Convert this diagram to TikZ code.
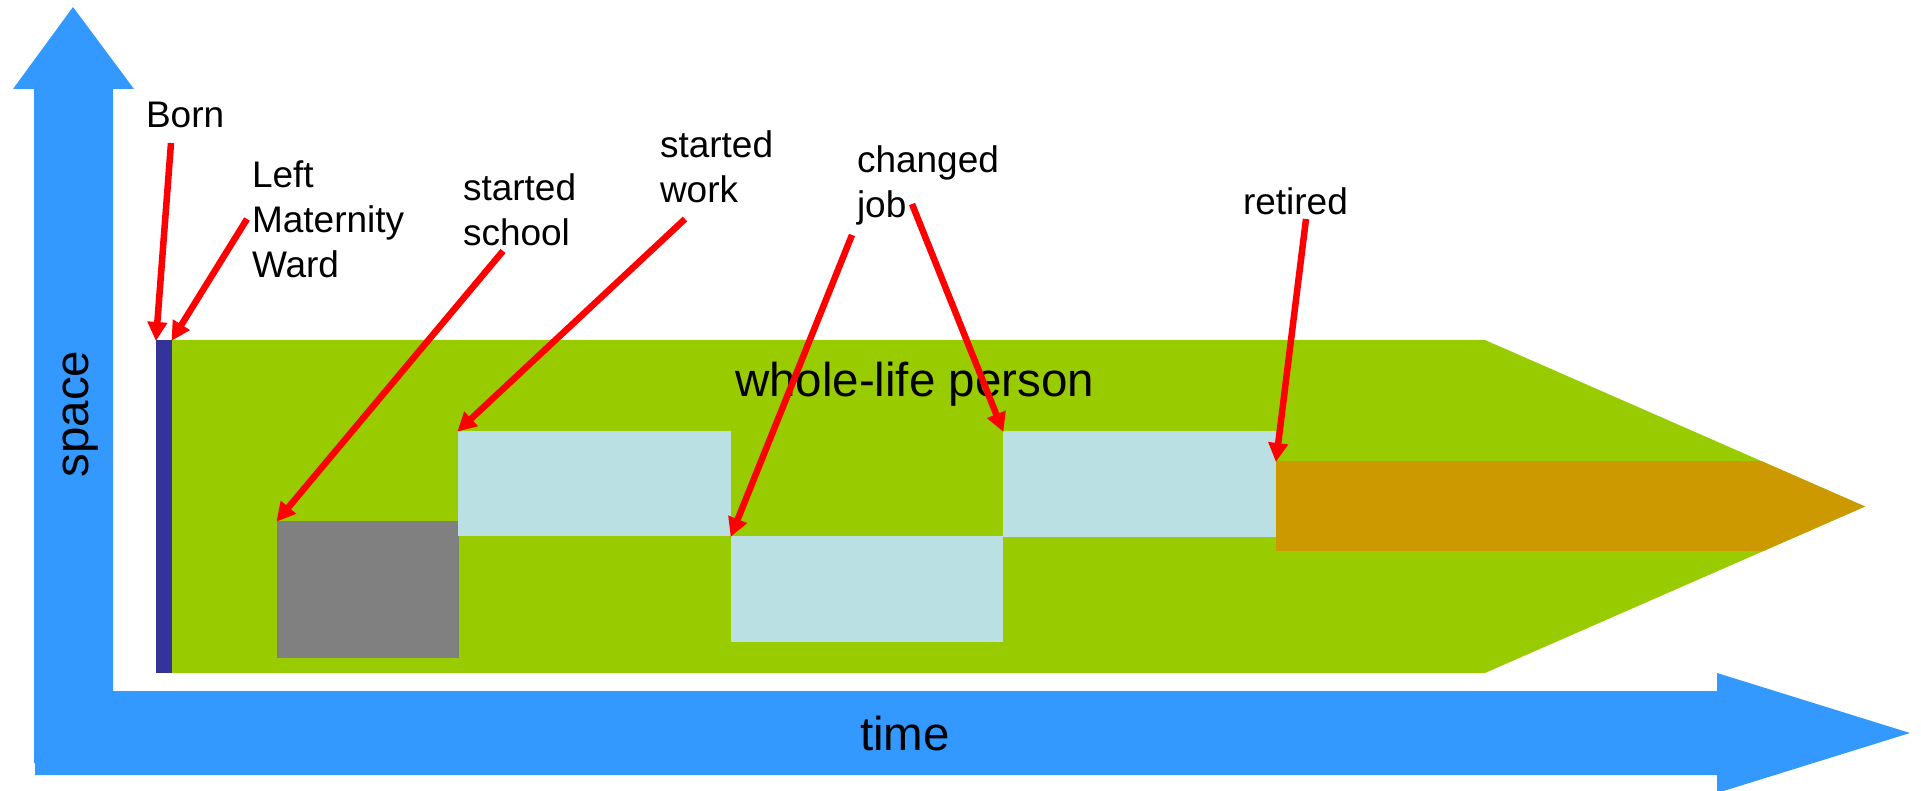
\documentclass[tikz,border=0pt]{standalone}
\usepackage{fontspec}
\setmainfont{Liberation Sans}
\usetikzlibrary{arrows.meta}
\definecolor{axisblue}{HTML}{3399FF}
\definecolor{lifegreen}{HTML}{99CC00}
\definecolor{birthblue}{HTML}{333399}
\definecolor{schoolgrey}{HTML}{808080}
\definecolor{jobblue}{HTML}{BBE0E3}
\definecolor{retireorange}{HTML}{CC9900}
\definecolor{pointer}{HTML}{FF0000}
\tikzset{
  stage/.style={inner sep=0pt, outer sep=0pt, anchor=north west, draw=none},
  % multi-line labels are placed by the baseline of their last line
  label/.style={inner sep=0pt, outer sep=0pt, anchor=base west, align=left,
    font=\fontsize{37}{45}\selectfont},
  biglabel/.style={inner sep=0pt, outer sep=0pt, anchor=base,
    font=\fontsize{47.5}{56}\selectfont},
  pointerarrow/.style={draw=pointer, line width=6.5pt,
    -{Triangle[length=19pt, width=19pt]}, shorten >=-1pt}
}
\begin{document}
\begin{tikzpicture}[x=1pt, y=-1pt]
\useasboundingbox (0,0) rectangle (1921,791);

% axes
\fill[axisblue] (34,763) -- (34,89) -- (13,89) -- (73,7) -- (134,89)
  -- (113,89) -- (113,763) -- cycle;
\fill[axisblue] (35,691) -- (1717,691) -- (1717,673) -- (1910,733)
  -- (1717,793) -- (1717,775) -- (35,775) -- cycle;
\node[biglabel, rotate=90] (space) at (88,414) {space};
\node[biglabel] (time) at (905,750) {time};

% the whole life, with its temporal parts
\fill[lifegreen] (172,340) -- (1485,340) -- (1865,506.5) -- (1485,673)
  -- (172,673) -- cycle;
\node[stage, fill=birthblue, minimum width=16pt, minimum height=333pt]
  (birth) at (156,340) {};
\node[stage, fill=schoolgrey, minimum width=182pt, minimum height=137pt]
  (school) at (277,521) {};
\node[stage, fill=jobblue, minimum width=273pt, minimum height=105pt]
  (jobA) at (458,431) {};
\node[stage, fill=jobblue, minimum width=272pt, minimum height=106pt]
  (jobB) at (731,536) {};
\node[stage, fill=jobblue, minimum width=273pt, minimum height=106pt]
  (jobC) at (1003,431) {};
\begin{scope}
  \clip (172,340) -- (1485,340) -- (1865,506.5) -- (1485,673)
    -- (172,673) -- cycle;
  \node[stage, fill=retireorange, minimum width=640pt, minimum height=90pt]
    (retire) at (1276,461) {};
\end{scope}
\node[biglabel, anchor=base west] (whole) at (735,396) {whole-life person};

% event labels
\node[label] (born) at (146,128) {Born};
\node[label] (leftward) at (252,278) {Left\\Maternity\\Ward};
\node[label] (startschool) at (463,246) {started\\school};
\node[label] (startwork) at (660,203) {started\\work};
\node[label] (changejob) at (857,218) {changed\\job};
\node[label] (retired) at (1243,215) {retired};

% pointer tails
\coordinate (bornT) at (171,143);
\coordinate (leftT) at (247,219);
\coordinate (schoolT) at (503,251);
\coordinate (workT) at (685,219);
\coordinate (jobT1) at (852,235);
\coordinate (jobT2) at (912,204);
\coordinate (retT) at (1306,219);

% pointers
\draw[pointerarrow] (bornT) -- (birth.north west);
\draw[pointerarrow] (leftT) -- (birth.north east);
\draw[pointerarrow] (schoolT) -- (school.north west);
\draw[pointerarrow] (workT) -- (jobA.north west);
\draw[pointerarrow] (jobT1) -- (jobB.north west);
\draw[pointerarrow] (jobT2) -- (jobC.north west);
\draw[pointerarrow] (retT) -- (retire.north west);
\end{tikzpicture}
\end{document}
